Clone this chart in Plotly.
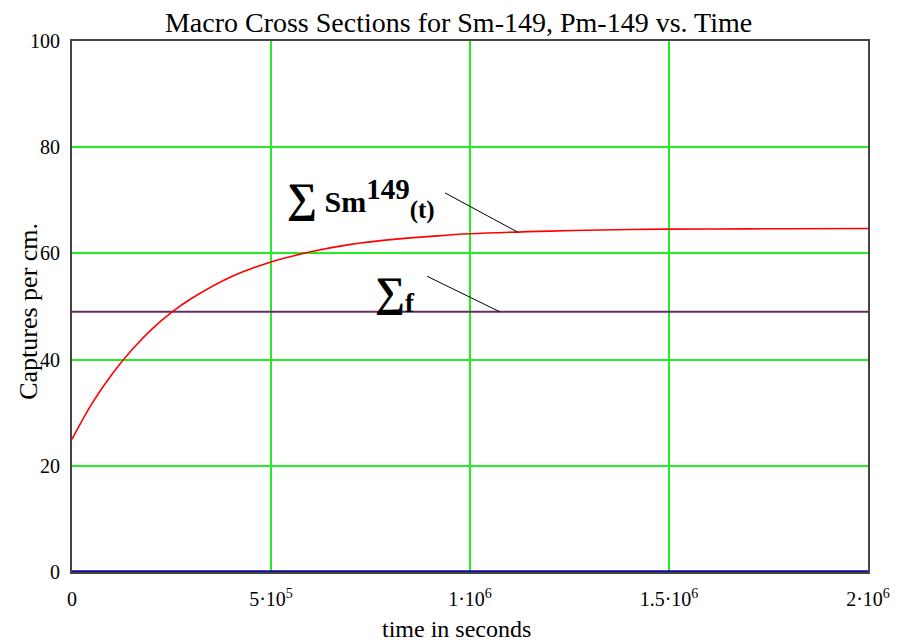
import plotly.graph_objects as go

# Data
time_s = [0, 50000, 100000, 150000, 200000, 250000, 300000, 400000, 500000, 600000,
          700000, 800000, 900000, 1000000, 1200000, 1400000, 1600000, 1800000, 2000000]
sigma_sm = [25.0, 31.7, 37.2, 41.8, 45.7, 48.9, 51.5, 55.6, 58.4, 60.3,
            61.7, 62.6, 63.2, 63.7, 64.2, 64.5, 64.6, 64.65, 64.7]
sigma_f = [49.0] * len(time_s)
pm_line = [0.0] * len(time_s)

x_tickvals = [0, 500000, 1000000, 1500000, 2000000]
x_ticktext = ["0", "5·10<sup>5</sup>", "1·10<sup>6</sup>", "1.5·10<sup>6</sup>", "2·10<sup>6</sup>"]
y_tickvals = [0, 20, 40, 60, 80, 100]

serif = "Liberation Serif, Times New Roman, serif"

fig = go.Figure()
fig.add_trace(go.Scatter(x=time_s, y=pm_line, mode="lines",
                         line=dict(color="#0a0aa0", width=3.5), cliponaxis=False,
                         showlegend=False))
fig.add_trace(go.Scatter(x=time_s, y=sigma_f, mode="lines",
                         line=dict(color="#6a2a6a", width=2), showlegend=False))
fig.add_trace(go.Scatter(x=time_s, y=sigma_sm, mode="lines", line_shape="spline",
                         line=dict(color="#ff0000", width=1.6), showlegend=False))

# leader lines
fig.add_trace(go.Scatter(x=[937000, 1120000], y=[71.4, 64.0], mode="lines",
                         line=dict(color="black", width=1), showlegend=False))
fig.add_trace(go.Scatter(x=[892000, 1075000], y=[55.7, 49.0], mode="lines",
                         line=dict(color="black", width=1), showlegend=False))

fig.add_annotation(x=727000, y=70.3, xref="x", yref="y", showarrow=False,
                   text="<b><span style='font-size:42px'>∑</span> Sm<sup><span style='font-size:29px'>149</span></sup><sub><span style='font-size:25px'>(t)</span></sub></b>",
                   font=dict(family=serif, size=30, color="black"))
fig.add_annotation(x=812000, y=52.5, xref="x", yref="y", showarrow=False,
                   text="<b><span style='font-size:42px'>∑</span><sub><span style='font-size:27px'>f</span></sub></b>",
                   font=dict(family=serif, size=30, color="black"))

# axis titles
fig.add_annotation(x=967000, y=-0.108, xref="x", yref="paper", showarrow=False,
                   text="time in seconds", yanchor="middle",
                   font=dict(family=serif, size=24, color="black"))
fig.add_annotation(x=-0.054, y=0.49, xref="paper", yref="paper", showarrow=False,
                   text="Captures per cm.", textangle=-90, xanchor="center",
                   font=dict(family=serif, size=26, color="black"))

fig.update_layout(
    width=901, height=634,
    margin=dict(l=64, r=41, t=33, b=70),
    paper_bgcolor="white", plot_bgcolor="white",
    title=dict(text="Macro Cross Sections for Sm-149, Pm-149 vs. Time",
               x=0.5, xanchor="center", y=0.993, yanchor="top",
               font=dict(family=serif, size=28, color="black")),
    font=dict(family=serif, size=20, color="black"),
)
fig.update_xaxes(range=[0, 2000000], tickvals=x_tickvals, ticktext=x_ticktext,
                 showgrid=True, gridcolor="#22ee22", gridwidth=1.6,
                 showline=True, linecolor="#444444", linewidth=2, mirror=True,
                 zeroline=False, ticks="", ticklabelstandoff=8)
fig.update_yaxes(range=[0, 100], tickvals=y_tickvals,
                 showgrid=True, gridcolor="#22ee22", gridwidth=1.6,
                 showline=True, linecolor="#444444", linewidth=2, mirror=True,
                 zeroline=False, ticks="", ticklabelstandoff=6)

fig.write_html("out.html")
